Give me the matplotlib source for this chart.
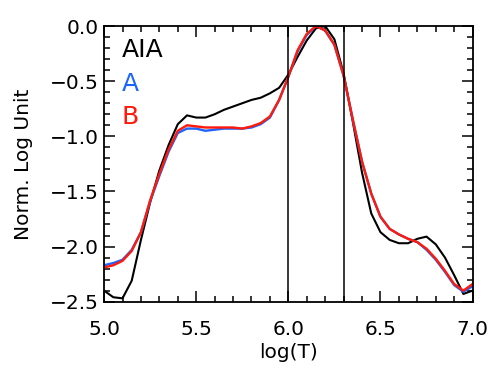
import numpy as np
import matplotlib
matplotlib.use('Agg')
import matplotlib.pyplot as plt
from matplotlib.ticker import MultipleLocator

# log(T) grid, 0.05 step
logt = [5.00, 5.05, 5.10, 5.15, 5.20, 5.25, 5.30, 5.35, 5.40, 5.45,
        5.50, 5.55, 5.60, 5.65, 5.70, 5.75, 5.80, 5.85, 5.90, 5.95,
        6.00, 6.05, 6.10, 6.15, 6.20, 6.25, 6.30, 6.35, 6.40, 6.45,
        6.50, 6.55, 6.60, 6.65, 6.70, 6.75, 6.80, 6.85, 6.90, 6.95, 7.00]

# normalized log responses
aia = [-2.40, -2.46, -2.47, -2.31, -1.94, -1.60, -1.31, -1.08, -0.89, -0.81,
       -0.83, -0.83, -0.80, -0.76, -0.73, -0.70, -0.67, -0.65, -0.61, -0.56,
       -0.44, -0.28, -0.13, -0.02, 0.00, -0.12, -0.43, -0.87, -1.33, -1.70,
       -1.87, -1.94, -1.97, -1.97, -1.93, -1.91, -1.98, -2.10, -2.26, -2.43, -2.40]

sta = [-2.17, -2.15, -2.12, -2.03, -1.87, -1.59, -1.36, -1.14, -0.97, -0.93,
       -0.93, -0.95, -0.94, -0.93, -0.93, -0.93, -0.92, -0.89, -0.83, -0.67,
       -0.46, -0.23, -0.08, 0.00, -0.04, -0.17, -0.45, -0.85, -1.23, -1.52,
       -1.73, -1.84, -1.89, -1.93, -1.96, -2.03, -2.12, -2.23, -2.35, -2.41, -2.36]

stb = [-2.19, -2.17, -2.13, -2.04, -1.87, -1.58, -1.34, -1.12, -0.95, -0.90,
       -0.91, -0.92, -0.92, -0.92, -0.92, -0.93, -0.91, -0.88, -0.82, -0.67,
       -0.46, -0.22, -0.07, 0.00, -0.04, -0.17, -0.45, -0.85, -1.23, -1.52,
       -1.73, -1.84, -1.89, -1.93, -1.96, -2.02, -2.11, -2.22, -2.34, -2.40, -2.34]

vlines = [6.0, 6.3]

plt.rcParams['font.family'] = ['DejaVu Sans']

fig = plt.figure(figsize=(4.98, 3.78), dpi=100)
ax = fig.add_axes([0.209, 0.202, 0.740, 0.729])

ax.plot(logt, aia, color='black', lw=1.5)
ax.plot(logt, sta, color='#1e64ff', lw=1.7)
ax.plot(logt, stb, color='#ff1a0a', lw=1.7)
for v in vlines:
    ax.axvline(v, color='black', lw=1.1)

ax.set_xlim(5.0, 7.0)
ax.set_ylim(-2.5, 0.0)
ax.xaxis.set_major_locator(MultipleLocator(0.5))
ax.xaxis.set_minor_locator(MultipleLocator(0.1))
ax.yaxis.set_major_locator(MultipleLocator(0.5))
ax.yaxis.set_minor_locator(MultipleLocator(0.1))
ax.tick_params(which='both', direction='in', top=True, right=True,
               labelsize=14.5, width=1.1)
ax.tick_params(axis='x', pad=13)
ax.tick_params(axis='y', pad=4)
ax.tick_params(which='major', length=8)
ax.tick_params(which='minor', length=4)
for s in ax.spines.values():
    s.set_linewidth(1.3)

ax.set_xlabel('log(T)', fontsize=14.5, labelpad=3)
ax.set_ylabel('Norm. Log Unit', fontsize=14.5, labelpad=12)

ax.text(0.047, 0.915, 'AIA', color='black', fontsize=18, transform=ax.transAxes, va='center')
ax.text(0.047, 0.79, 'A', color='#1e64ff', fontsize=18, transform=ax.transAxes, va='center')
ax.text(0.047, 0.67, 'B', color='#ff1a0a', fontsize=18, transform=ax.transAxes, va='center')

fig.savefig('out.png', dpi=100)
